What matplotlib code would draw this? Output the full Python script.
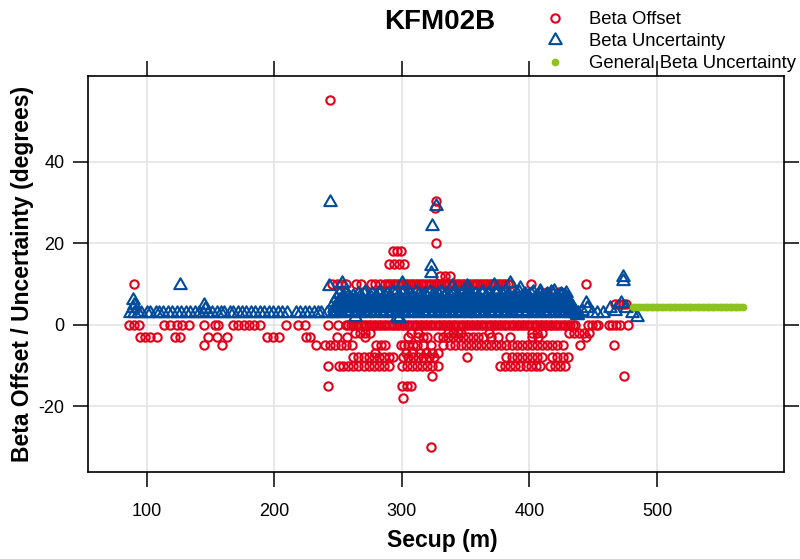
import numpy as np
import matplotlib
matplotlib.use("Agg")
import matplotlib.pyplot as plt
from matplotlib.path import Path
from matplotlib.lines import Line2D

plt.rcParams['font.family'] = ['Liberation Sans', 'DejaVu Sans']
plt.rcParams['axes.unicode_minus'] = False

# ---- data (Secup in m, values in degrees) ----
# Beta offset points, grouped by offset level: secup positions
off_0 = [86, 90, 94, 114, 118, 124, 128, 133, 145, 154, 156, 168, 172, 176, 180, 184, 189,
         209, 219, 224, 242, 250,
         256, 258, 260, 262, 264, 266, 268, 270, 272, 274, 276, 278, 280, 282, 284, 286,
         288, 290, 292, 294, 296, 298, 300, 302, 304, 306, 308, 310, 312, 314, 316, 318,
         320, 322, 324, 326, 328, 330, 332, 334, 336, 338, 340, 342, 344, 346, 348, 350,
         352, 354, 356, 358, 360, 362, 364, 366, 368, 370, 372, 374, 376, 378, 380, 382,
         384, 386, 388, 390, 392, 394, 396, 398, 400, 402, 404, 406, 408, 410, 412, 414,
         416, 418, 420, 422, 424, 426, 428, 430, 432, 434, 436,
         446, 449, 452, 454, 462, 465, 468, 471, 477]
off_5 = [467, 470, 473, 476]
off_8 = [414, 423, 425]
off_10 = [90, 245, 249, 252, 256, 264, 268, 276, 279, 283, 287, 289, 291, 293, 295, 297,
          299, 301, 303, 305, 307, 309, 311, 313, 315, 317, 319, 321, 323, 325, 327, 329,
          331, 333, 335, 337, 339, 341, 343, 345, 347, 349, 351, 353, 355, 357, 359, 361,
          363, 365, 367, 369, 371, 373, 375, 377, 379, 381, 383, 385, 401, 444]
off_12 = [330, 334, 338]
off_15 = [290, 294, 298, 302]
off_18 = [293, 296, 299]
off_20 = [327]
off_28 = [326]
off_30 = [327]
off_55 = [244]
off_m2 = [263, 267, 271, 275, 307, 313, 336, 340, 344, 346, 368, 402, 406, 410,
          431, 435, 439, 443, 447]
off_m3 = [95, 99, 103, 108, 122, 126, 148, 155, 163, 194, 199, 204, 225, 228, 249, 257,
          271, 305, 313, 317, 320, 328, 332, 336, 340, 344, 348, 352, 356, 360, 364, 370,
          375, 385, 402, 407, 444]
off_m5 = [145, 159, 233, 240, 244, 248, 252, 256, 261, 280, 284, 287, 299, 302, 305, 309,
          312, 317, 323, 332, 338, 342, 346, 350, 354, 358, 362, 366, 370, 374, 378, 382,
          386, 390, 394, 398, 402, 406, 410, 414, 418, 422, 426, 440, 466]
off_m7 = [279, 303, 308, 314, 319, 324, 328]
off_m8 = [262, 266, 270, 274, 278, 282, 286, 290, 293, 301, 305, 309, 313, 317, 321, 325,
          351, 382, 386, 390, 394, 398, 402, 406, 410, 418, 422, 426, 430]
off_m10 = [242, 251, 254, 258, 262, 266, 270, 274, 278, 282, 286, 290, 300, 304, 308, 312,
           316, 320, 324, 328, 377, 381, 385, 389, 393, 397, 401, 405, 408, 416, 420, 424, 428]
off_m12 = [324, 474]
off_m15 = [242, 300, 304, 307]
off_m18 = [301]
off_m30 = [323]

offset_levels = {0: off_0, 5: off_5, 8: off_8, 10: off_10, 12: off_12, 15: off_15,
                 18: off_18, 20: off_20, 28.6: off_28, 30.4: off_30, 55: off_55,
                 -2: off_m2, -3: off_m3, -5: off_m5, -7: off_m7, -8: off_m8,
                 -10: off_m10, -12.5: off_m12, -15: off_m15, -18: off_m18, -30: off_m30}

# Beta uncertainty: regular 3 degree values in the upper-hole part
unc_3_secup = [87, 90, 93, 96, 100, 103, 107, 110, 113, 117, 120, 124, 127, 131, 134, 138,
               141, 144, 148, 151, 155, 158, 161, 165, 168, 172, 175, 178, 182, 185, 189,
               192, 196, 199, 203, 206, 210, 217, 220, 224, 227, 231, 234, 237, 241]

# Beta uncertainty in the densely sampled part (two interleaved sample sets)
unc_dense_secup = list(range(246, 438))
unc_dense_val = [3, 4, 3, 5, 4, 6, 3, 5, 7, 4, 6, 3, 7, 5, 6, 4,
                 7, 3, 5, 6, 4, 7, 3, 6, 5, 8, 4, 3, 6, 7, 5, 4,
                 6, 3, 7, 5, 4, 8, 6, 3, 5, 7, 4, 6, 3, 7, 5, 8,
                 4, 6, 3, 5, 7, 4, 6, 8, 3, 5, 7, 4, 6, 3, 7, 5,
                 4, 8, 6, 3, 5, 7, 4, 6, 3, 7, 5, 4, 8, 6, 3, 5,
                 7, 4, 6, 3, 5, 8, 4, 7, 3, 6, 5, 4, 7, 3, 6, 8,
                 5, 4, 7, 3, 6, 5, 8, 4, 3, 7, 6, 5, 3, 7, 4, 6,
                 3, 5, 7, 4, 6, 8, 3, 5, 7, 4, 6, 3, 5, 7, 4, 8,
                 6, 3, 5, 7, 4, 6, 3, 8, 5, 4, 7, 6, 3, 5, 7, 4,
                 6, 3, 8, 5, 4, 7, 6, 3, 5, 7, 4, 6, 3, 8, 5, 4,
                 7, 6, 3, 5, 7, 4, 6, 3, 7, 5, 4, 8, 6, 3, 5, 7,
                 4, 6, 3, 7, 5, 4, 7, 6, 3, 5, 4, 3, 4, 3, 3, 2.5]
unc_dense2_secup = [s + 0.5 for s in unc_dense_secup]
unc_dense2_val = [5.5, 3.5, 6.5, 4.5, 7.5, 3.5, 5.5, 6.5, 4.5, 3.5, 7.5, 5.5, 4.5, 6.5, 3.5, 5.5,
                  4.5, 6.5, 3.5, 7.5, 5.5, 4.5, 6.5, 3.5, 7.5, 4.5, 5.5, 6.5, 3.5, 4.5, 7.5, 5.5,
                  3.5, 6.5, 4.5, 5.5, 7.5, 3.5, 4.5, 6.5, 5.5, 3.5, 7.5, 4.5, 6.5, 5.5, 3.5, 4.5,
                  7.5, 5.5, 3.5, 6.5, 4.5, 5.5, 7.5, 3.5, 6.5, 4.5, 5.5, 3.5, 7.5, 6.5, 4.5, 3.5,
                  5.5, 6.5, 3.5, 7.5, 4.5, 5.5, 3.5, 6.5, 7.5, 4.5, 3.5, 5.5, 6.5, 4.5, 7.5, 3.5,
                  4.5, 5.5, 7.5, 3.5, 6.5, 4.5, 5.5, 3.5, 7.5, 4.5, 6.5, 3.5, 5.5, 7.5, 4.5, 3.5,
                  6.5, 5.5, 3.5, 4.5, 7.5, 3.5, 6.5, 5.5, 4.5, 3.5, 7.5, 6.5, 4.5, 5.5, 3.5, 7.5,
                  4.5, 6.5, 3.5, 5.5, 7.5, 4.5, 3.5, 6.5, 5.5, 7.5, 3.5, 4.5, 6.5, 5.5, 3.5, 7.5,
                  4.5, 5.5, 6.5, 3.5, 7.5, 4.5, 5.5, 3.5, 6.5, 7.5, 4.5, 3.5, 5.5, 6.5, 4.5, 3.5,
                  7.5, 5.5, 4.5, 6.5, 3.5, 5.5, 7.5, 4.5, 3.5, 6.5, 5.5, 7.5, 4.5, 3.5, 6.5, 5.5,
                  3.5, 4.5, 7.5, 6.5, 3.5, 5.5, 4.5, 7.5, 3.5, 6.5, 5.5, 4.5, 7.5, 3.5, 6.5, 5.5,
                  4.5, 3.5, 7.5, 5.5, 6.5, 4.5, 3.5, 6.5, 5.5, 4.5, 3.5, 4.5, 3.5, 3.5, 3, 2.5]

# Beta uncertainty, isolated values
unc_other_secup = [89, 89, 90, 126, 145, 146,
                   243, 244, 253, 263, 296, 298, 300, 323, 323, 324, 327, 339, 351, 352,
                   372, 385, 393, 408, 419, 429,
                   438, 441, 444, 445, 449, 453, 458, 463, 467, 472, 473, 473, 476, 480, 484]
unc_other_val = [6.1, 4, 4.9, 9.8, 4.9, 3.9,
                 9.4, 30.2, 10.2, 2, 2, 1.6, 10.2, 14.3, 12.7, 24.2, 29.1, 9.4, 9.4, 8.6,
                 9.8, 10.2, 9, 8.2, 8.2, 7.8,
                 3, 3.5, 5.3, 4, 3, 2.9, 3, 4.1, 3.3, 5.3, 11.8, 10.7, 4.1, 2.9, 2]

# General beta uncertainty
gen_secup = [481, 483, 485, 487, 489, 491, 493, 495, 497, 499, 501, 503, 505, 507, 509,
             511, 513, 515, 517, 519, 521, 523, 525, 527, 529, 531, 533, 535, 537, 539,
             541, 543, 545, 547, 549, 551, 553, 555, 557, 559, 561, 563, 565, 567]
gen_val = [4.3] * len(gen_secup)

# ---- build series ----
off_x, off_y = [], []
for level, xs in offset_levels.items():
    off_x += xs
    off_y += [level] * len(xs)

unc_x = unc_3_secup + unc_dense_secup + unc_dense2_secup + unc_other_secup
unc_y = [3] * len(unc_3_secup) + unc_dense_val + unc_dense2_val + unc_other_val

RED = '#E2001A'
BLUE = '#004B9B'
GREEN = '#8DC21F'

# equilateral triangle centred on its centroid (like R pch=2)
tri = Path([(0, 1), (0.866, -0.5), (-0.866, -0.5), (0, 1)],
           [Path.MOVETO, Path.LINETO, Path.LINETO, Path.CLOSEPOLY])

off_style = dict(marker='o', ms=6.0, mfc='none', mec=RED, mew=1.5)
unc_style = dict(marker=tri, ms=10.4, mfc='none', mec=BLUE, mew=1.5)
gen_style = dict(marker='o', ms=5.6, mfc=GREEN, mec=GREEN, mew=0)

fig = plt.figure(figsize=(8, 5.59), dpi=100)
ax = fig.add_axes([88 / 800, 87 / 559, 696 / 800, 396 / 559])

ax.plot(off_x, off_y, linestyle='none', **off_style)
ax.plot(unc_x, unc_y, linestyle='none', **unc_style)
ax.plot(gen_secup, gen_val, linestyle='none', **gen_style)

ax.set_xlim(54.1, 599.5)
ax.set_ylim(-36.1, 61.0)
ax.set_xticks([100, 200, 300, 400, 500])
ax.set_yticks([-20, 0, 20, 40])
ax.grid(True, color='#e6e6e6', linewidth=1.3)
ax.set_axisbelow(True)
for sp in ax.spines.values():
    sp.set_linewidth(1.2)

ax.tick_params(axis='both', direction='out', length=11, width=1.1, labelsize=13,
               top=True, right=True, labeltop=False, labelright=False)
ax.tick_params(axis='x', pad=11)
ax.tick_params(axis='y', pad=6)

ax.set_xlabel('Secup (m)', fontsize=16.5, fontweight='bold', va='center')
ax.xaxis.set_label_coords(0.5086, -0.174)
ax.set_ylabel('Beta Offset / Uncertainty (degrees)', fontsize=16.5,
              fontweight='bold', va='center')
ax.yaxis.set_label_coords(-0.0948, 0.5)

fig.suptitle('KFM02B', x=440 / 800, y=1 - 22 / 559, va='center',
             fontsize=20, fontweight='bold')

handles = [Line2D([], [], linestyle='none', **off_style),
           Line2D([], [], linestyle='none', **unc_style),
           Line2D([], [], linestyle='none', **gen_style)]
fig.legend(handles, ['Beta Offset', 'Beta Uncertainty', 'General Beta Uncertainty'],
           loc='upper left', bbox_to_anchor=(545.75 / 800, 1 - 11.5 / 559),
           frameon=False, fontsize=13.3, handlelength=1.0, handletextpad=1.34,
           labelspacing=0.27, borderpad=0, borderaxespad=0, numpoints=1)

fig.savefig('out.png', dpi=100)
